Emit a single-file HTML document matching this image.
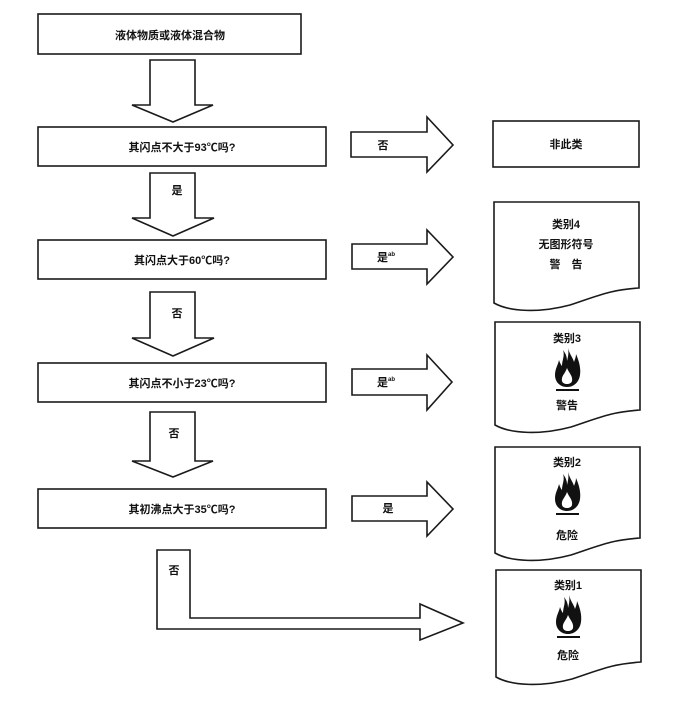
<!DOCTYPE html>
<html><head><meta charset="utf-8"><style>
html,body{margin:0;padding:0;background:#fff;}
svg{display:block;}
text{font-family:"Liberation Sans","Noto Sans CJK SC",sans-serif;font-size:11px;font-weight:bold;fill:#111;text-anchor:middle;}
.s{fill:#fff;stroke:#1a1a1a;stroke-width:1.6;}
</style></head><body>
<svg width="680" height="705" viewBox="0 0 680 705">
<defs>
<g id="fl">
<path d="M14,0 C16,7 19,10 20,14 C21,11 22,9 22,6 C25,13 27,20 26,27 C25,34 20,39 13,39 C6,39 1,34 1,27 C1,21 4,17 5,12 C6,15 7,17 8,18 C8,12 11,8 9,2 C12,6 13,9 13,13 C14,9 15,5 14,0 Z" fill="#111"/>
<path d="M13,20 C15,25 19,28 18,33 C17,37 9,37 8,33 C7,28 11,26 13,20 Z" fill="#fff"/>
<rect x="2" y="41" width="23" height="2" fill="#111"/>
</g>
</defs>
<rect class="s" x="38" y="14" width="263" height="40"/>
<text x="170" y="39">液体物质或液体混合物</text>
<rect class="s" x="38" y="127" width="288" height="39"/>
<text x="182" y="151">其闪点不大于93℃吗?</text>
<rect class="s" x="38" y="240" width="288" height="39"/>
<text x="182" y="264">其闪点大于60℃吗?</text>
<rect class="s" x="38" y="363" width="288" height="39"/>
<text x="182" y="387">其闪点不小于23℃吗?</text>
<rect class="s" x="38" y="489" width="288" height="39"/>
<text x="182" y="513">其初沸点大于35℃吗?</text>
<path class="s" d="M150,60 H195 V105 H213 L173,122 L132,105 H150 Z"/>
<path class="s" d="M150,173 H195 V218 H214 L173,236 L132,218 H150 Z"/>
<text x="177" y="194">是</text>
<path class="s" d="M150,292 H195 V338 H214 L173,356 L132,338 H150 Z"/>
<text x="177" y="317">否</text>
<path class="s" d="M150,412 H195 V461 H213 L173,477 L132,461 H150 Z"/>
<text x="174" y="437">否</text>
<path class="s" d="M157,550 H190 V618 H420 V604 L463,623 L420,640 V629 H157 Z"/>
<text x="174" y="574">否</text>
<path class="s" d="M351,132 H427 V117 L453,145 L427,172 V157 H351 Z"/>
<text x="383" y="149">否</text>
<path class="s" d="M352,244 H427 V230 L453,257 L427,284 V269 H352 Z"/>
<text x="386" y="261">是<tspan font-size="6" dy="-5">ab</tspan></text>
<path class="s" d="M352,369 H427 V355 L452,382 L427,410 V395 H352 Z"/>
<text x="386" y="386">是<tspan font-size="6" dy="-5">ab</tspan></text>
<path class="s" d="M352,496 H427 V482 L453,509 L427,536 V521 H352 Z"/>
<text x="388" y="512">是</text>
<rect class="s" x="493" y="121" width="146" height="46"/>
<text x="566" y="148">非此类</text>
<path class="s" d="M494,202 H639 V288 C610,290 600,295 570,305 C540,313 510,312 494,303 Z"/>
<text x="566" y="228">类别4</text>
<text x="566" y="248">无图形符号</text>
<text x="566" y="268">警　告</text>
<path class="s" d="M495,322 H640 V410 C611,412 601,417 571,427 C541,435 511,434 495,425 Z"/>
<text x="567" y="342">类别3</text>
<use href="#fl" x="554" y="348"/>
<text x="567" y="409">警告</text>
<path class="s" d="M495,447 H640 V538 C611,540 601,545 571,555 C541,563 511,562 495,553 Z"/>
<text x="567" y="466">类别2</text>
<use href="#fl" x="554" y="472"/>
<text x="567" y="539">危险</text>
<path class="s" d="M496,570 H641 V662 C612,664 602,669 572,679 C542,687 512,686 496,677 Z"/>
<text x="568" y="589">类别1</text>
<use href="#fl" x="555" y="595"/>
<text x="568" y="659">危险</text>
</svg>
</body></html>
